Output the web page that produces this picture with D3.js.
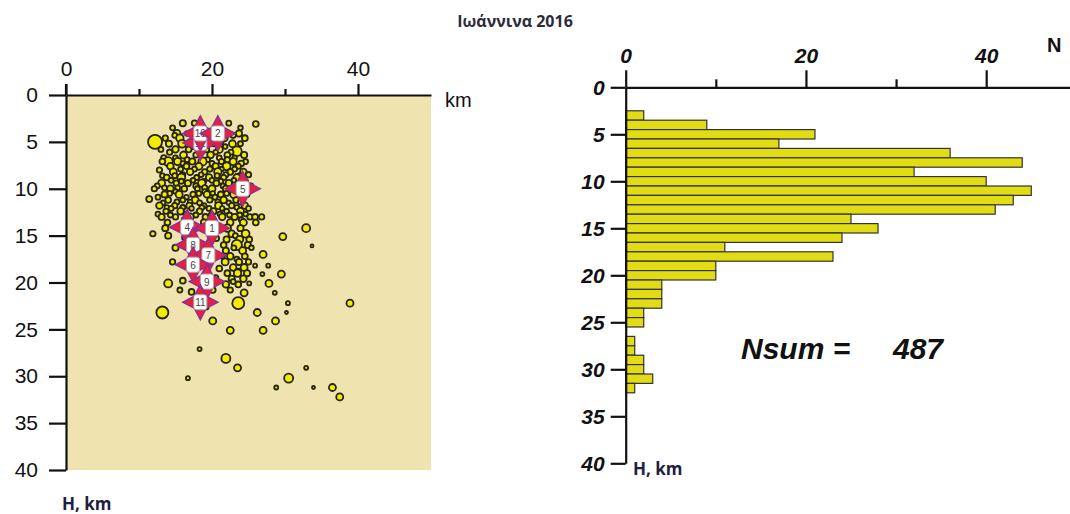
<!DOCTYPE html>
<html><head><meta charset="utf-8">
<script src="https://cdn.jsdelivr.net/npm/d3@7"></script>
<style>body{margin:0;background:#fff}svg{display:block}</style>
</head><body>
<svg id="c" width="1070" height="514"></svg>
<script>
// ---------- data ----------
const title = "Ιωάννινα 2016";
const leftXTicks = [0, 20, 40];
const leftXMinor = [10, 30];
const depthTicks = [0, 5, 10, 15, 20, 25, 30, 35, 40];
const rightXTicks = [0, 20, 40];
const rightXMinor = [10, 30];
// histogram: depth bins (km, centred) and counts
const histDepth = [3,4,5,6,7,8,9,10,11,12,13,14,15,16,17,18,19,20,21,22,23,24,25,27,28,29,30,31,32];
const histCount = [2,9,21,17,36,44,32,40,45,43,41,25,28,24,11,23,10,10,4,4,4,2,2,1,1,2,2,3,1];
const nsum = 487;
// events: [distance km, depth km, magnitude]
const events = [
 [16.0,3.0,1.8],[17.6,3.0,1.6],[22.3,3.0,1.5],[26.0,3.1,1.7],
 [14.6,3.5,1.5],[20.6,3.5,1.7],[23.9,3.5,1.4],
 [15.2,4.1,2.0],[16.6,4.1,1.4],[23.7,4.1,1.8],[14.9,4.3,1.5],[22.9,4.3,1.6],
 [13.6,4.6,1.6],[15.6,4.6,2.1],[21.7,4.6,1.9],[24.5,4.6,1.7],
 [12.2,5.0,3.75],[17.0,5.0,1.6],[19.8,5.0,1.5],[21.2,5.0,1.6],
 [14.1,5.2,1.8],[15.9,5.2,2.2],[20.3,5.2,1.6],[22.8,5.2,2.0],[23.9,5.2,1.5],
 [17.5,5.5,1.5],[18.6,5.5,1.7],[21.8,5.5,1.4],
 [13.0,5.8,1.5],[15.0,5.8,1.9],[16.8,5.8,1.7],[19.2,5.8,1.8],[21.0,5.8,2.0],
 [23.4,6.0,2.7],[14.2,6.1,1.6],[18.5,6.1,1.5],[20.5,6.1,1.4],[22.6,6.1,1.5],
 [16.1,6.4,2.0],[17.8,6.4,1.6],[19.8,6.4,1.9],[22.1,6.4,1.7],[24.4,6.4,1.8],
 [13.4,6.7,1.6],[15.0,6.7,1.5],[21.0,6.7,1.5],[23.1,6.7,1.4],
 [16.6,6.9,1.5],[19.4,6.9,1.5],[22.1,6.9,1.6],
 [14.0,7.1,2.5],[13.2,7.1,1.7],[15.3,7.1,2.1],[17.3,7.1,1.8],[18.7,7.1,2.3],[21.3,7.1,1.6],[22.9,7.1,2.0],[24.6,7.1,1.5],
 [16.0,7.3,1.4],[20.0,7.3,1.5],[24.0,7.3,1.7],
 [14.3,7.6,1.9],[16.5,7.6,1.7],[18.2,7.6,2.0],[20.5,7.6,1.8],[22.0,7.6,2.2],[23.6,7.6,1.6],
 [15.7,7.9,1.5],[17.6,7.9,1.5],[19.7,7.9,1.6],[21.3,7.9,1.4],[23.1,7.9,1.5],
 [12.8,8.0,1.6],
 [14.7,8.2,2.0],[17.0,8.2,1.9],[19.0,8.2,1.6],[20.8,8.2,2.1],[22.5,8.2,1.7],[24.3,8.2,1.9],
 [16.0,8.5,1.5],[18.5,8.5,1.4],[21.9,8.5,1.5],[25.0,8.5,1.6],
 [13.2,8.6,1.4],[14.9,8.6,1.5],[20.7,8.6,1.5],[23.8,8.6,1.5],
 [13.8,8.8,1.7],[15.8,8.8,2.2],[17.9,8.8,1.5],[19.6,8.8,1.9],[21.6,8.8,1.6],[23.4,8.8,2.0],
 [14.4,9.1,1.5],[17.4,9.1,1.4],[20.0,9.1,1.5],[23.0,9.1,1.4],
 [15.8,9.2,1.5],[18.9,9.2,1.4],[21.2,9.2,1.5],[24.6,9.2,1.4],
 [13.1,9.4,2.0],[15.1,9.4,1.6],[16.7,9.4,1.8],[18.6,9.4,2.1],[20.6,9.4,1.7],[22.3,9.4,1.9],[24.1,9.4,2.3],
 [12.5,9.7,1.5],[17.8,9.7,1.6],[21.5,9.7,1.4],[25.3,9.7,1.5],
 [13.5,9.9,1.5],[15.3,9.9,1.5],[19.0,9.9,1.6],[22.8,9.9,1.5],
 [12.1,10.0,1.6],[14.3,10.0,1.9],[16.2,10.0,1.7],[18.0,10.0,1.5],[20.0,10.0,2.0],[21.9,10.0,1.8],[23.5,10.0,1.6],
 [15.0,10.3,1.4],[19.0,10.3,1.5],[22.7,10.3,1.4],
 [14.2,10.5,1.5],[18.2,10.5,1.5],[20.1,10.5,1.4],[22.0,10.5,1.5],
 [13.5,10.6,1.8],[15.5,10.6,2.0],[17.4,10.6,1.6],[19.3,10.6,1.9],[21.2,10.6,1.7],[23.0,10.6,2.1],[24.8,10.6,1.5],
 [12.6,10.9,1.5],[16.5,10.9,1.4],[20.4,10.9,1.5],[24.2,10.9,1.6],
 [11.4,11.1,1.75],
 [14.0,11.2,1.7],[16.0,11.2,1.5],[17.7,11.2,2.0],[19.7,11.2,1.6],[21.6,11.2,1.9],[23.3,11.2,1.7],
 [15.2,11.4,1.5],[17.0,11.4,1.4],[20.8,11.4,1.5],[23.9,11.4,1.5],
 [13.3,11.5,1.4],[18.3,11.5,1.5],[22.3,11.5,1.4],
 [12.8,11.8,1.9],[14.9,11.8,1.6],[16.9,11.8,1.8],[18.9,11.8,1.5],[20.9,11.8,2.0],[22.7,11.8,1.6],[24.5,11.8,1.9],
 [13.8,12.0,1.4],[16.0,12.0,1.5],[18.6,12.0,1.5],[23.4,12.0,1.4],
 [14.4,12.1,1.5],[17.2,12.1,1.4],[19.6,12.1,1.5],[21.4,12.1,1.4],[25.0,12.1,1.5],
 [13.7,12.4,1.6],[15.7,12.4,1.9],[18.3,12.4,1.7],[20.2,12.4,1.8],[22.0,12.4,1.5],[23.9,12.4,2.0],
 [12.6,12.7,1.5],[16.4,12.7,1.4],[21.1,12.7,1.5],[24.6,12.7,1.4],
 [14.3,12.8,1.5],[17.8,12.8,1.5],[19.9,12.8,1.5],[22.4,12.8,1.5],[23.8,12.8,1.5],
 [13.1,13.0,1.8],[15.0,13.0,1.6],[17.0,13.0,2.0],[19.1,13.0,1.7],[21.4,13.0,1.9],[23.1,13.0,1.8],[25.2,13.0,1.6],[25.9,13.0,1.7],[26.8,13.0,1.6],
 [16.2,13.3,1.5],[20.2,13.3,1.5],[24.0,13.3,1.4],
 [13.9,13.6,1.7],[18.9,13.6,1.8],[22.5,13.6,1.9],[24.3,13.6,2.0],[26.0,13.6,1.7],
 [13.6,14.2,1.8],[22.1,14.2,2.1],[23.9,14.2,1.8],[32.9,14.2,2.25],
 [11.9,14.8,1.6],[22.7,14.8,1.9],[24.6,14.8,2.2],[14.0,15.0,1.8],[23.2,15.0,1.5],[29.7,15.1,2.0],
 [16.3,15.2,1.7],[20.6,15.3,1.6],
 [22.0,15.4,1.8],[23.8,15.4,2.0],[25.1,15.4,1.7],
 [23.4,16.0,2.8],[24.9,16.0,1.8],[21.6,16.0,1.7],[33.7,16.1,1.0],[15.0,16.3,1.8],[23.0,16.3,1.5],[25.4,16.3,1.4],
 [21.9,16.6,1.8],[24.2,16.6,2.0],[27.0,17.0,2.0],
 [22.5,17.2,1.9],[24.5,17.2,1.7],[21.4,17.2,1.5],[23.4,17.5,1.5],
 [14.6,17.8,1.6],[21.8,17.8,2.0],[23.7,17.8,1.8],[25.0,17.8,1.6],
 [25.9,18.2,1.25],[27.7,18.2,1.25],[22.9,18.4,1.9],[24.4,18.4,2.0],[21.0,18.5,1.7],[23.6,18.8,1.5],
 [22.1,19.0,1.7],[23.5,19.0,2.1],[24.8,19.0,1.8],[26.9,19.1,1.25],[29.5,19.1,2.0],
 [20.5,19.5,1.6],[22.7,19.6,1.8],[24.3,19.6,1.9],[16.0,19.8,1.7],[22.9,19.9,1.5],
 [14.0,20.1,2.25],[25.1,20.1,1.25],[27.8,20.1,2.0],[21.9,20.2,1.9],[23.6,20.2,1.7],
 [22.5,20.8,1.6],[20.1,20.8,1.7],[15.6,20.8,1.5],[17.2,21.0,1.7],[24.4,21.1,2.0],[28.6,21.1,1.25],
 [17.8,21.8,1.6],[23.6,22.2,3.25],[30.4,22.2,1.25],[38.9,22.2,2.0],[19.2,22.6,1.5],
 [13.2,23.2,3.25],[30.2,23.2,1.0],[26.2,23.2,2.0],
 [20.1,24.1,2.0],[28.7,24.1,2.0],[22.5,25.1,2.0],[27.0,25.1,2.0],
 [18.3,27.1,1.25],[21.9,28.1,2.5],[23.5,29.1,2.0],[32.9,29.1,1.25],
 [16.7,30.2,1.25],[30.5,30.2,2.5],[28.8,31.2,1.25],[33.9,31.2,1.0],[36.5,31.2,2.0],[37.5,32.2,2.0]
];
// largest events, drawn as stars
const starX =     [18.4, 18.4, 20.8, 24.2, 16.6, 20.0, 17.4, 19.5, 17.4, 19.3, 18.4];
const starDepth = [5.1,  4.1,  4.1,  10.0, 14.1, 14.2, 16.0, 17.1, 18.1, 19.9, 22.1];
const starLabel = ["12","10","2",  "5",  "4",  "1",  "8",  "7",  "6",  "9",  "11"];

// ---------- drawing ----------
const svg = d3.select("#c");
const lab = "'Liberation Sans', Arial, sans-serif";
const cal = "'Open Sans', 'Liberation Sans', sans-serif";

svg.append("text").attr("x", 515).attr("y", 27).attr("text-anchor", "middle")
  .attr("font-family", cal).attr("font-weight", "bold").attr("font-size", 16)
  .attr("fill", "#2b2b3b").text(title);

// ----- left panel -----
const xL = d3.scaleLinear().domain([0, 50]).range([66, 431]);
const yL = d3.scaleLinear().domain([0, 40]).range([95, 470]);
const rM = d3.scaleLinear().domain([1, 4]).range([1.5, 7.5]);

svg.append("rect").attr("x", xL(0) + 1).attr("y", yL(0) + 1)
  .attr("width", xL(50) - xL(0) - 1).attr("height", yL(40) - yL(0) - 1)
  .attr("fill", "#EFE3B0");

const gL = svg.append("g");
gL.selectAll("circle").data(events).join("circle")
  .attr("cx", d => xL(d[0])).attr("cy", d => yL(d[1])).attr("r", d => rM(d[2]))
  .attr("fill", "#F4EB05").attr("stroke", "#24240e").attr("stroke-width", 1.8);

const starPath = d3.lineRadial().curve(d3.curveLinearClosed)(
  d3.range(8).map(i => [i * Math.PI / 4, i % 2 === 0 ? 17.5 : 8.5]));
const st = gL.selectAll("g.star").data(starX.map((x, i) => [x, starDepth[i], starLabel[i]]))
  .join("g").attr("class", "star")
  .attr("transform", d => `translate(${xL(d[0])},${yL(d[1])})`);
st.append("path").attr("d", starPath).attr("fill", "#E6203E")
  .attr("stroke", "#8E2F96").attr("stroke-width", 1.5);
st.append("rect").attr("x", -6.5).attr("y", -7.5).attr("width", 13).attr("height", 15).attr("rx", 2.5)
  .attr("fill", "#fff").attr("stroke", "#aaa").attr("stroke-width", 1);
st.append("text").attr("text-anchor", "middle").attr("dy", 4)
  .attr("font-family", lab).attr("font-size", 10).attr("fill", "#444").text(d => d[2]);

function styleAxis(g, italic) {
  g.select(".domain").attr("stroke", "#111").attr("stroke-width", 2.2);
  g.selectAll(".tick line").attr("stroke", "#111").attr("stroke-width", 2.2);
  g.selectAll(".tick text").attr("font-family", lab).attr("font-size", 21)
    .attr("fill", "#111").attr("font-style", italic ? "italic" : "normal")
    .attr("font-weight", italic ? "bold" : "normal");
}

const axTL = svg.append("g").attr("transform", `translate(0,${yL(0)})`)
  .call(d3.axisTop(xL).tickValues(leftXTicks).tickSize(11).tickSizeOuter(0).tickPadding(8));
styleAxis(axTL, false);
svg.append("g").attr("transform", `translate(0,${yL(0)})`)
  .call(d3.axisTop(xL).tickValues(leftXMinor).tickSize(6).tickFormat(""))
  .call(g => { g.select(".domain").remove(); g.selectAll("line").attr("stroke", "#111").attr("stroke-width", 2.2); });
const axLL = svg.append("g").attr("transform", `translate(${xL(0)},0)`)
  .call(d3.axisLeft(yL).tickValues(depthTicks).tickSize(17).tickSizeOuter(0).tickPadding(11));
styleAxis(axLL, false);
svg.append("line").attr("x1", xL(0)).attr("x2", xL(0)).attr("y1", yL(0) - 11).attr("y2", yL(0))
  .attr("stroke", "#111").attr("stroke-width", 2.2);

svg.append("text").attr("x", 445).attr("y", 107).attr("font-family", lab).attr("font-size", 20)
  .attr("fill", "#111").text("km");
svg.append("text").attr("x", 62).attr("y", 510).attr("font-family", cal).attr("font-weight", "bold")
  .attr("font-size", 17).attr("fill", "#1d2040").text("H, km");

// ----- right panel -----
const xR = d3.scaleLinear().domain([0, 49.3]).range([625.7, 1070]);
const yR = d3.scaleLinear().domain([0, 40]).range([87.3, 463.3]);

svg.append("g").selectAll("rect").data(histDepth.map((d, i) => [d, histCount[i]])).join("rect")
  .attr("x", xR(0)).attr("y", d => yR(d[0] - 0.5))
  .attr("width", d => xR(d[1]) - xR(0)).attr("height", yR(1) - yR(0))
  .attr("fill", "#E2DC14").attr("stroke", "#333").attr("stroke-width", 1.2);

const axTR = svg.append("g").attr("transform", `translate(0,${yR(0)})`)
  .call(d3.axisTop(xR).tickValues(rightXTicks).tickSize(17).tickSizeOuter(0).tickPadding(7));
styleAxis(axTR, true);
svg.append("g").attr("transform", `translate(0,${yR(0)})`)
  .call(d3.axisTop(xR).tickValues(rightXMinor).tickSize(8).tickFormat(""))
  .call(g => { g.select(".domain").remove(); g.selectAll("line").attr("stroke", "#111").attr("stroke-width", 2.2); });
const axLR = svg.append("g").attr("transform", `translate(${xR(0)},0)`)
  .call(d3.axisLeft(yR).tickValues(depthTicks).tickSize(15).tickSizeOuter(0).tickPadding(6));
styleAxis(axLR, true);

svg.append("text").attr("x", 1047).attr("y", 52).attr("font-family", lab).attr("font-weight", "bold")
  .attr("font-size", 20).attr("fill", "#111").text("N");
svg.append("text").attr("x", 633).attr("y", 475).attr("font-family", cal).attr("font-weight", "bold")
  .attr("font-size", 17).attr("fill", "#1d2040").text("H, km");

svg.append("text").attr("x", 741).attr("y", 359).attr("font-family", lab).attr("font-weight", "bold")
  .attr("font-style", "italic").attr("font-size", 30).attr("fill", "#111").text("Nsum =");
svg.append("text").attr("x", 893).attr("y", 359).attr("font-family", lab).attr("font-weight", "bold")
  .attr("font-style", "italic").attr("font-size", 30).attr("fill", "#111").text(String(nsum));
</script>
</body></html>
